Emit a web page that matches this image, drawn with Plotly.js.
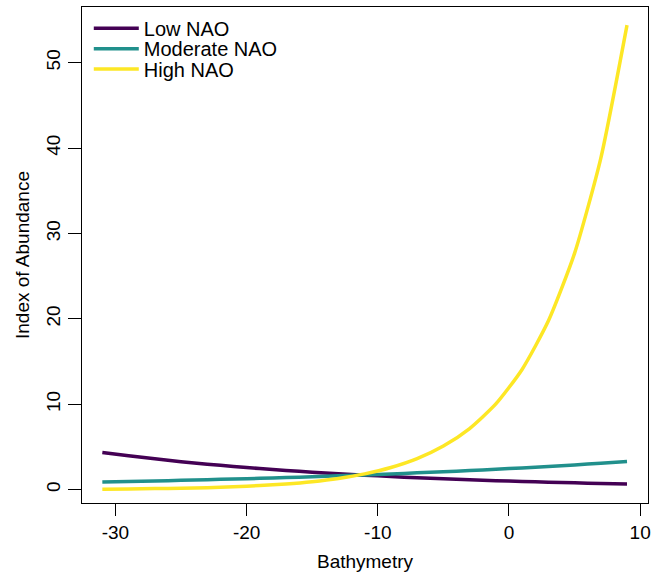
<!DOCTYPE html>
<html>
<head>
<meta charset="utf-8">
<script src="https://cdn.plot.ly/plotly-3.0.1.min.js"></script>
<style>html,body{margin:0;padding:0;background:#fff;}#chart{width:660px;height:573px;}</style>
</head>
<body>
<div id="chart"></div>
<script>
// Bathymetry values (x)
const bathymetry = [-31,-29,-27,-25,-23,-21,-19,-17,-15,-13,-11,-9,-7,-5,-3,-1,1,3,5,7,9];
// Index of abundance per NAO level
const lowNAO = [4.36,3.97,3.61,3.28,2.99,2.72,2.47,2.25,2.05,1.86,1.70,1.54,1.40,1.28,1.16,1.06,0.96,0.88,0.80,0.73,0.66];
const moderateNAO = [0.90,0.96,1.03,1.09,1.17,1.25,1.33,1.42,1.51,1.62,1.73,1.84,1.97,2.10,2.24,2.39,2.55,2.72,2.90,3.10,3.31];
const highNAO = [0.063,0.088,0.124,0.17,0.24,0.34,0.48,0.67,0.94,1.32,1.85,2.60,3.64,5.11,7.16,10.04,14.08,19.74,27.67,38.8,54.4];
const seriesNames = ["Low NAO","Moderate NAO","High NAO"];
const seriesColors = ["#440154","#21908C","#FDE725"];
const xTicks = [-30,-20,-10,0,10];
const yTicks = [0,10,20,30,40,50];

const FONT = "Liberation Sans, Arial, sans-serif";
const ys = [lowNAO, moderateNAO, highNAO];
const legendIds = ["legend","legend2","legend3"];
const traces = ys.map((y,i)=>({
  x: bathymetry, y: y, type: "scatter", mode: "lines",
  name: seriesNames[i], legend: legendIds[i],
  line: {color: seriesColors[i], width: 3.5, shape: "spline", smoothing: 0.6}
}));

const legendYs = [0.957, 0.916, 0.875];
function legendBox(yy){
  return {x: 0.012, y: yy, xanchor: "left", yanchor: "middle",
    bgcolor: "rgba(0,0,0,0)", borderwidth: 0, itemwidth: 45,
    font: {family: FONT, size: 20, color: "#000"}};
}

const layout = {
  width: 660, height: 573,
  margin: {l: 82, r: 12, t: 7, b: 70},
  paper_bgcolor: "#fff", plot_bgcolor: "#fff",
  font: {family: FONT, color: "#000", size: 18},
  showlegend: true,
  legend: legendBox(legendYs[0]),
  legend2: legendBox(legendYs[1]),
  legend3: legendBox(legendYs[2]),
  xaxis: {
    range: [-32.55, 10.6], tickvals: xTicks, ticktext: xTicks.map(String),
    showgrid: false, zeroline: false, showline: true, mirror: true,
    linecolor: "#000", linewidth: 1, ticks: "outside", ticklen: 12, tickcolor: "#000",
    tickfont: {family: FONT, size: 19},
    title: {text: "Bathymetry", font: {family: FONT, size: 19}, standoff: 12}
  },
  yaxis: {
    range: [-1.56, 56.52], tickvals: yTicks, ticktext: yTicks.map(String),
    showgrid: false, zeroline: false, showline: true, mirror: true,
    linecolor: "#000", linewidth: 1, ticks: "outside", ticklen: 13, tickcolor: "#000",
    tickangle: -90,
    tickfont: {family: FONT, size: 19},
    title: {text: "Index of Abundance", font: {family: FONT, size: 19}, standoff: 8}
  }
};
Plotly.newPlot("chart", traces, layout, {displayModeBar: false, staticPlot: true});
</script>
</body>
</html>
